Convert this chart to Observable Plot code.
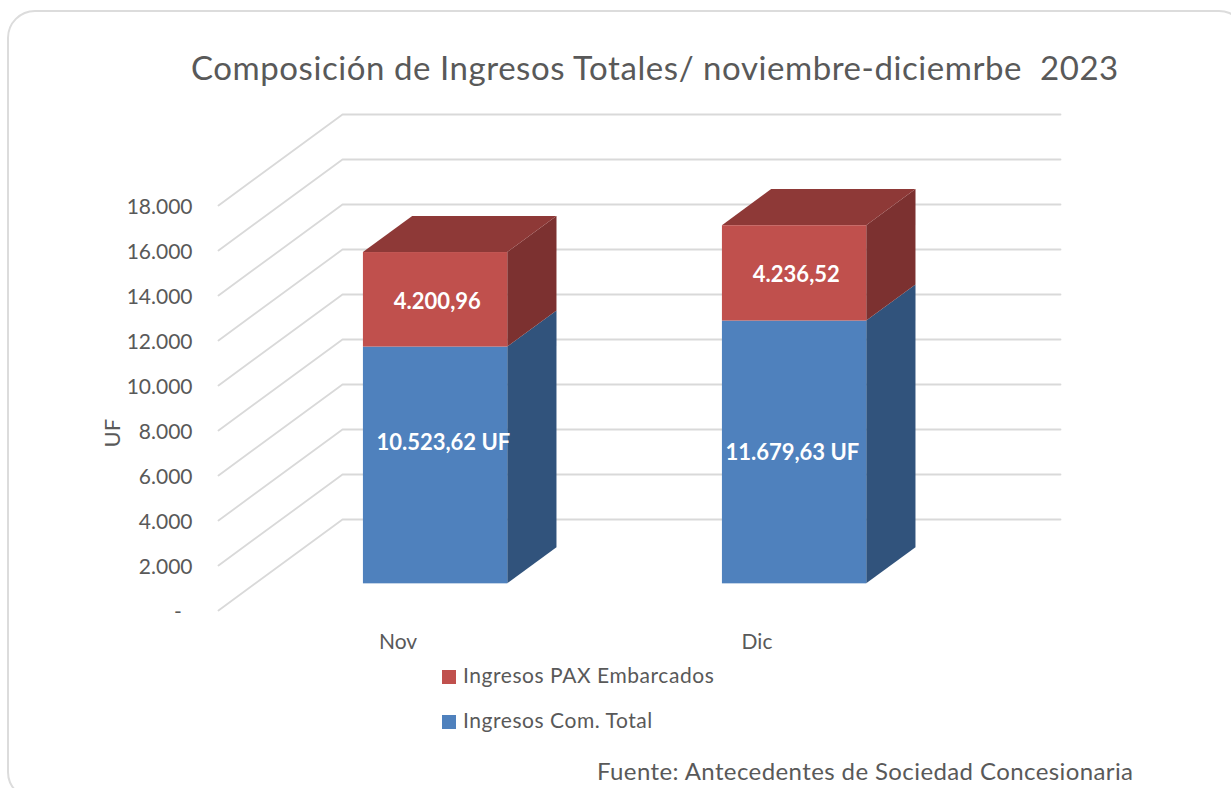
<!DOCTYPE html>
<html lang="es">
<head>
<meta charset="utf-8">
<script src="https://cdn.jsdelivr.net/npm/d3@7"></script>
<script src="https://cdn.jsdelivr.net/npm/@observablehq/plot@0.6"></script>
<style>
html,body{margin:0;padding:0;width:1231px;height:788px;overflow:hidden;background:#fff;font-family:Lato,sans-serif;color:#595959}
#card{position:absolute;left:7px;top:10px;width:1240px;height:790px;border:2px solid #dcdcdc;border-radius:28px;box-sizing:border-box}
#title{position:absolute;left:191px;top:45px;font-size:33px;line-height:44px;white-space:pre;letter-spacing:.56px}
#chart{position:absolute;left:0;top:100px}
#chart svg{display:block}
.leg{position:absolute;left:442px;font-size:21px;line-height:26px;white-space:pre;letter-spacing:.55px}
.leg i{display:inline-block;width:14px;height:14px;margin-right:7px;vertical-align:-1px}
#source{position:absolute;left:597px;top:757px;font-size:24px;line-height:28px;white-space:pre;letter-spacing:.4px}
</style>
</head>
<body>
<div id="card"></div>
<div id="title">Composición de Ingresos Totales/ noviembre-diciemrbe  2023</div>
<div id="chart"></div>
<div id="legend"></div>
<div id="source">Fuente: Antecedentes de Sociedad Concesionaria</div>
<script>
const categories = ["Nov", "Dic"];
const comercial = [10523.62, 11679.63];
const pax = [4200.96, 4236.52];
const comercialLabels = ["10.523,62 UF", "11.679,63 UF"];
const paxLabels = ["4.200,96", "4.236,52"];
const yTicks = [0, 2000, 4000, 6000, 8000, 10000, 12000, 14000, 16000, 18000];
const seriesNames = ["Ingresos PAX Embarcados", "Ingresos Com. Total"];
const seriesColors = ["#c0504d", "#4f81bd"];

// oblique-projection settings, in data units
const depthX = 0.3454, depthY = 4044;
const barWidth = 0.402, barShift = 0.0035, zFront = 0.293, zBack = 0.69;
const wallLeft = -0.5, wallRight = 1.5;

const px = (i, z) => i + z * depthX;
const py = (v, z) => v + z * depthY;

const gridData = yTicks.flatMap(t => [
  {t, x: px(wallLeft, 0), y: py(t, 0)},
  {t, x: px(wallLeft, 1), y: py(t, 1)},
  {t, x: px(wallRight, 1), y: py(t, 1)}
]);

const bars = categories.flatMap((c, i) => [
  {i: i + barShift, c, s: 1, lo: 0, hi: comercial[i], front: "#4f81bd", side: "#31537c"},
  {i: i + barShift, c, s: 0, lo: comercial[i], hi: comercial[i] + pax[i], front: "#c0504d", side: "#7c3130", top: "#8e3937"}
]);

const sideFaces = bars.flatMap((b, k) => [zFront, zBack].map(z => ({
  k, side: b.side,
  x: px(b.i + barWidth / 2, z), y1: py(b.lo, z), y2: py(b.hi, z)
})));
const topFaces = bars.filter(b => b.top).flatMap(b => [zFront, zBack].map(z => ({
  i: b.i, top: b.top,
  y: py(b.hi, z), x1: px(b.i - barWidth / 2, z), x2: px(b.i + barWidth / 2, z)
})));

const textStyle = {fontFamily: "Lato, sans-serif", fontSize: 22, fontWeight: 700, fill: "#fff", stroke: "none"};
const comercialNudge = [[9, -22], [-1, 1]];

const plot = Plot.plot({
  width: 1231, height: 560,
  marginLeft: 200, marginRight: 0, marginTop: 0, marginBottom: 25,
  style: {fontFamily: "Lato, sans-serif", background: "transparent", overflow: "visible"},
  x: {type: "linear", domain: [(200 - 397.5) / 359, (1231 - 397.5) / 359]},
  y: {type: "linear", domain: [-1111.1, 22666.7]},
  color: {type: "identity"},
  marks: [
    Plot.line(gridData, {x: "x", y: "y", z: "t", stroke: "#d9d9d9", strokeWidth: 1.8, curve: "linear"}),
    Plot.area(sideFaces, {x1: "x", y1: "y1", y2: "y2", z: "k", fill: "side"}),
    Plot.area(topFaces, {y1: "y", x1: "x1", x2: "x2", z: "i", fill: "top"}),
    Plot.rect(bars, {
      x1: b => px(b.i - barWidth / 2, zFront),
      x2: b => px(b.i + barWidth / 2, zFront),
      y1: b => py(b.lo, zFront),
      y2: b => py(b.hi, zFront),
      fill: "front"
    }),
    ...categories.map((c, i) => Plot.text([comercialLabels[i]], {
      x: px(i, zFront), y: py(comercial[i] / 2, zFront), text: d => d,
      dx: comercialNudge[i][0], dy: comercialNudge[i][1], ...textStyle
    })),
    Plot.text(categories, {
      x: (c, i) => px(i, zFront),
      y: (c, i) => py(comercial[i] + pax[i] / 2, zFront),
      text: (c, i) => paxLabels[i], dx: 3, dy: 2, ...textStyle
    }),
    Plot.axisY({
      ticks: yTicks, label: null, tickSize: 0, tickPadding: 8, fontSize: 21, dy: 2,
      fill: "#595959",
      tickFormat: d => d === 0 ? "-\u00a0\u00a0" : d3.format(",")(d).replace(/,/g, ".")
    }),
    Plot.axisX({
      ticks: [0, 1], label: null, tickSize: 0, tickPadding: -1, fontSize: 21,
      fill: "#595959", tickFormat: i => categories[i]
    }),
    Plot.text(["UF"], {
      frameAnchor: "left", y: 7244, dx: -88, rotate: -90, text: d => d,
      fontSize: 22, fill: "#595959"
    })
  ]
});
document.getElementById("chart").append(plot);

const legend = document.getElementById("legend");
seriesNames.forEach((name, i) => {
  const row = document.createElement("div");
  row.className = "leg";
  row.style.top = (662 + i * 45) + "px";
  const sw = document.createElement("i");
  sw.style.background = seriesColors[i];
  row.append(sw, name);
  legend.append(row);
});
</script>
</body>
</html>
